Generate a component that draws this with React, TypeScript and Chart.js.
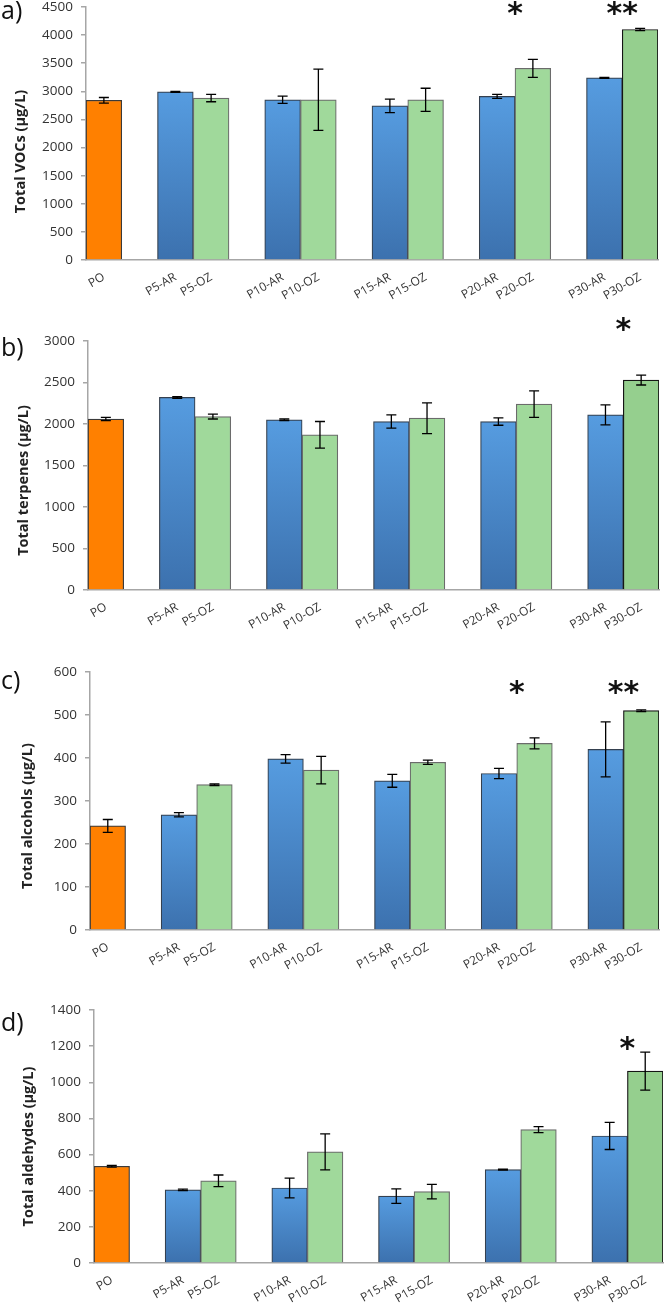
import React, { useEffect, useRef } from "react";
import { Chart, registerables } from "chart.js";

Chart.register(...registerables);

// ---------- data ----------
const categories = [
  "PO", "", "P5-AR", "P5-OZ", "", "P10-AR", "P10-OZ", "", "P15-AR", "P15-OZ",
  "", "P20-AR", "P20-OZ", "", "P30-AR", "P30-OZ",
];

const vocsValues = [2840, null, 2990, 2880, null, 2850, 2850, null, 2740, 2850, null, 2910, 3410, null, 3240, 4100];
const vocsErrors = [50, null, 10, 65, null, 65, 545, null, 120, 205, null, 35, 160, null, 10, 20];
const vocsStars = [
  { label: "P20-OZ", text: "*", value: 4470 },
  { label: "P30-OZ", text: "**", value: 4470 },
];

const terpValues = [2060, null, 2320, 2090, null, 2050, 1870, null, 2030, 2070, null, 2030, 2240, null, 2110, 2530];
const terpErrors = [20, null, 10, 30, null, 10, 160, null, 80, 185, null, 45, 160, null, 120, 60];
const terpStars = [{ label: "P30-OZ", text: "*", value: 3200 }];

const alcValues = [242, null, 268, 338, null, 398, 372, null, 347, 390, null, 364, 434, null, 420, 510];
const alcErrors = [15, null, 5, 2, null, 10, 32, null, 15, 5, null, 12, 13, null, 64, 2];
const alcStars = [
  { label: "P20-OZ", text: "*", value: 563 },
  { label: "P30-OZ", text: "**", value: 563 },
];

const aldValues = [535, null, 405, 455, null, 415, 615, null, 370, 395, null, 517, 738, null, 703, 1062];
const aldErrors = [5, null, 4, 32, null, 55, 100, null, 40, 40, null, 3, 17, null, 75, 105];
const aldStars = [{ label: "P30-OZ", text: "*", value: 1217 }];

// ---------- panel setup ----------
type Star = { label: string; text: string; value: number };
type Panel = {
  tag: string;
  title: string;
  values: (number | null)[];
  errors: (number | null)[];
  stars: Star[];
  yMax: number;
  yStep: number;
  canvasTop: number;
  canvasHeight: number;
  chartTop: number;
  chartBottom: number;
  left: number;
  right: number;
  titleX: number;
  titleDy: number;
  tagBaseline: number;
};

const panels: Panel[] = [
  {
    tag: "a)", title: "Total VOCs (µg/L)", values: vocsValues, errors: vocsErrors, stars: vocsStars,
    yMax: 4500, yStep: 500, canvasTop: -23, canvasHeight: 328, chartTop: 7, chartBottom: 260,
    left: 86, right: 658, titleX: 21, titleDy: 18, tagBaseline: 19,
  },
  {
    tag: "b)", title: "Total terpenes (µg/L)", values: terpValues, errors: terpErrors, stars: terpStars,
    yMax: 3000, yStep: 500, canvasTop: 308, canvasHeight: 327, chartTop: 341, chartBottom: 590,
    left: 88, right: 659, titleX: 24, titleDy: 15, tagBaseline: 356,
  },
  {
    tag: "c)", title: "Total alcohols (µg/L)", values: alcValues, errors: alcErrors, stars: alcStars,
    yMax: 600, yStep: 100, canvasTop: 640, canvasHeight: 335, chartTop: 672, chartBottom: 930,
    left: 90, right: 659, titleX: 28, titleDy: 15, tagBaseline: 689,
  },
  {
    tag: "d)", title: "Total aldehydes (µg/L)", values: aldValues, errors: aldErrors, stars: aldStars,
    yMax: 1400, yStep: 200, canvasTop: 980, canvasHeight: 335, chartTop: 1010, chartBottom: 1263,
    left: 94, right: 663, titleX: 29, titleDy: 10, tagBaseline: 1031,
  },
];

const FONT = "'Open Sans', 'Liberation Sans', sans-serif";
const AXIS_GREY = "#A6A6A6";

function kindOf(label: string) {
  if (label === "PO") return "PO";
  if (label.endsWith("AR")) return "AR";
  return "OZ";
}

function makeDecor(p: Panel) {
  return {
    id: "decor" + p.tag,
    afterDatasetsDraw(chart: any) {
      const { ctx, chartArea, scales } = chart;
      const meta = chart.getDatasetMeta(0);
      const y = scales.y;
      ctx.save();
      // error bars
      ctx.strokeStyle = "#000";
      ctx.lineWidth = 1.3;
      p.values.forEach((v, i) => {
        const e = p.errors[i];
        if (v == null || e == null) return;
        const bar = meta.data[i];
        const x = bar.x;
        const y1 = y.getPixelForValue(v + e);
        const y2 = y.getPixelForValue(v - e);
        ctx.beginPath();
        ctx.moveTo(x, y1);
        ctx.lineTo(x, y2);
        ctx.moveTo(x - 5, y1);
        ctx.lineTo(x + 5, y1);
        ctx.moveTo(x - 5, y2);
        ctx.lineTo(x + 5, y2);
        ctx.stroke();
      });
      // significance stars
      ctx.fillStyle = "#111";
      ctx.font = "bold 30px 'DejaVu Sans', sans-serif";
      ctx.textAlign = "center";
      ctx.textBaseline = "alphabetic";
      p.stars.forEach((s) => {
        const i = categories.indexOf(s.label);
        const bar = meta.data[i];
        const x = bar.x - bar.width / 2;
        const m = ctx.measureText(s.text);
        const cy = y.getPixelForValue(s.value);
        const base = cy - (m.actualBoundingBoxDescent - m.actualBoundingBoxAscent) / 2;
        ctx.fillText(s.text, x, base);
      });
      // y title
      ctx.fillStyle = "#222";
      ctx.font = `bold 14.5px ${FONT}`;
      ctx.textAlign = "center";
      ctx.textBaseline = "middle";
      ctx.translate(p.titleX, (chartArea.top + chartArea.bottom) / 2 + p.titleDy);
      ctx.rotate(-Math.PI / 2);
      ctx.fillText(p.title, 0, 0);
      ctx.restore();
      // panel tag
      ctx.save();
      ctx.fillStyle = "#111";
      ctx.font = `25px ${FONT}`;
      ctx.textAlign = "left";
      ctx.textBaseline = "alphabetic";
      ctx.fillText(p.tag, 1, p.tagBaseline - p.canvasTop);
      ctx.restore();
    },
  };
}

function PanelChart({ p }: { p: Panel }) {
  const ref = useRef<HTMLCanvasElement>(null);
  useEffect(() => {
    const canvas = ref.current;
    if (!canvas) return;
    const bg = (c: any) => {
      const i = c.dataIndex;
      const label = categories[i];
      const k = kindOf(label);
      if (k === "PO") return "#FF8000";
      if (k === "OZ") return label === "P30-OZ" ? "#95CF8E" : "#A0D99B";
      const chart = c.chart;
      const v = p.values[i];
      if (!chart.chartArea || v == null) return "#4A88CC";
      const top = chart.scales.y.getPixelForValue(v);
      const bottom = chart.scales.y.getPixelForValue(0);
      const g = chart.ctx.createLinearGradient(0, top, 0, bottom);
      g.addColorStop(0, "#569CE0");
      g.addColorStop(1, "#3C71AE");
      return g;
    };
    const bc = (c: any) => {
      const label = categories[c.dataIndex];
      const k = kindOf(label);
      if (k === "PO") return "#3a3a3a";
      if (k === "AR") return "#34404f";
      return label === "P30-OZ" ? "#151515" : "#6b6b6b";
    };
    const chart = new Chart(canvas, {
      type: "bar",
      data: {
        labels: categories,
        datasets: [
          {
            data: p.values as any,
            backgroundColor: bg,
            borderColor: bc,
            borderWidth: 1.2,
            categoryPercentage: 1,
            barPercentage: 1,
          },
        ],
      },
      options: {
        animation: false,
        responsive: false,
        devicePixelRatio: 1,
        layout: {
          padding: { top: p.chartTop - p.canvasTop, right: 666 - p.right, left: 0, bottom: 0 },
        },
        plugins: { legend: { display: false }, tooltip: { enabled: false } },
        scales: {
          x: {
            grid: { display: false, drawTicks: false },
            border: { display: true, color: AXIS_GREY, width: 1.5 },
            ticks: {
              autoSkip: false,
              maxRotation: 30,
              minRotation: 30,
              padding: 10,
              color: "#333",
              font: { family: FONT, size: 12 },
            },
            afterFit: (s: any) => {
              s.height = p.canvasHeight - (p.chartBottom - p.canvasTop);
            },
          },
          y: {
            min: 0,
            max: p.yMax,
            ticks: {
              stepSize: p.yStep,
              padding: 8,
              color: "#333",
              font: { family: FONT, size: 13.5 },
              callback: (v: any) => String(v),
            },
            grid: {
              display: true,
              drawOnChartArea: false,
              drawTicks: true,
              tickLength: 5,
              color: AXIS_GREY,
              lineWidth: 1.5,
            },
            border: { display: true, color: AXIS_GREY, width: 1.5 },
            afterFit: (s: any) => {
              s.width = p.left;
            },
          },
        },
      },
      plugins: [makeDecor(p)],
    } as any);
    return () => chart.destroy();
  }, [p]);
  return (
    <canvas
      ref={ref}
      width={666}
      height={p.canvasHeight}
      style={{ position: "absolute", left: 0, top: p.canvasTop, width: 666, height: p.canvasHeight }}
    />
  );
}

export default function App() {
  return (
    <div
      style={{
        position: "absolute",
        left: 0,
        top: 0,
        width: 666,
        height: 1315,
        background: "#fff",
        overflow: "hidden",
      }}
    >
      {panels.map((p) => (
        <PanelChart key={p.tag} p={p} />
      ))}
    </div>
  );
}
